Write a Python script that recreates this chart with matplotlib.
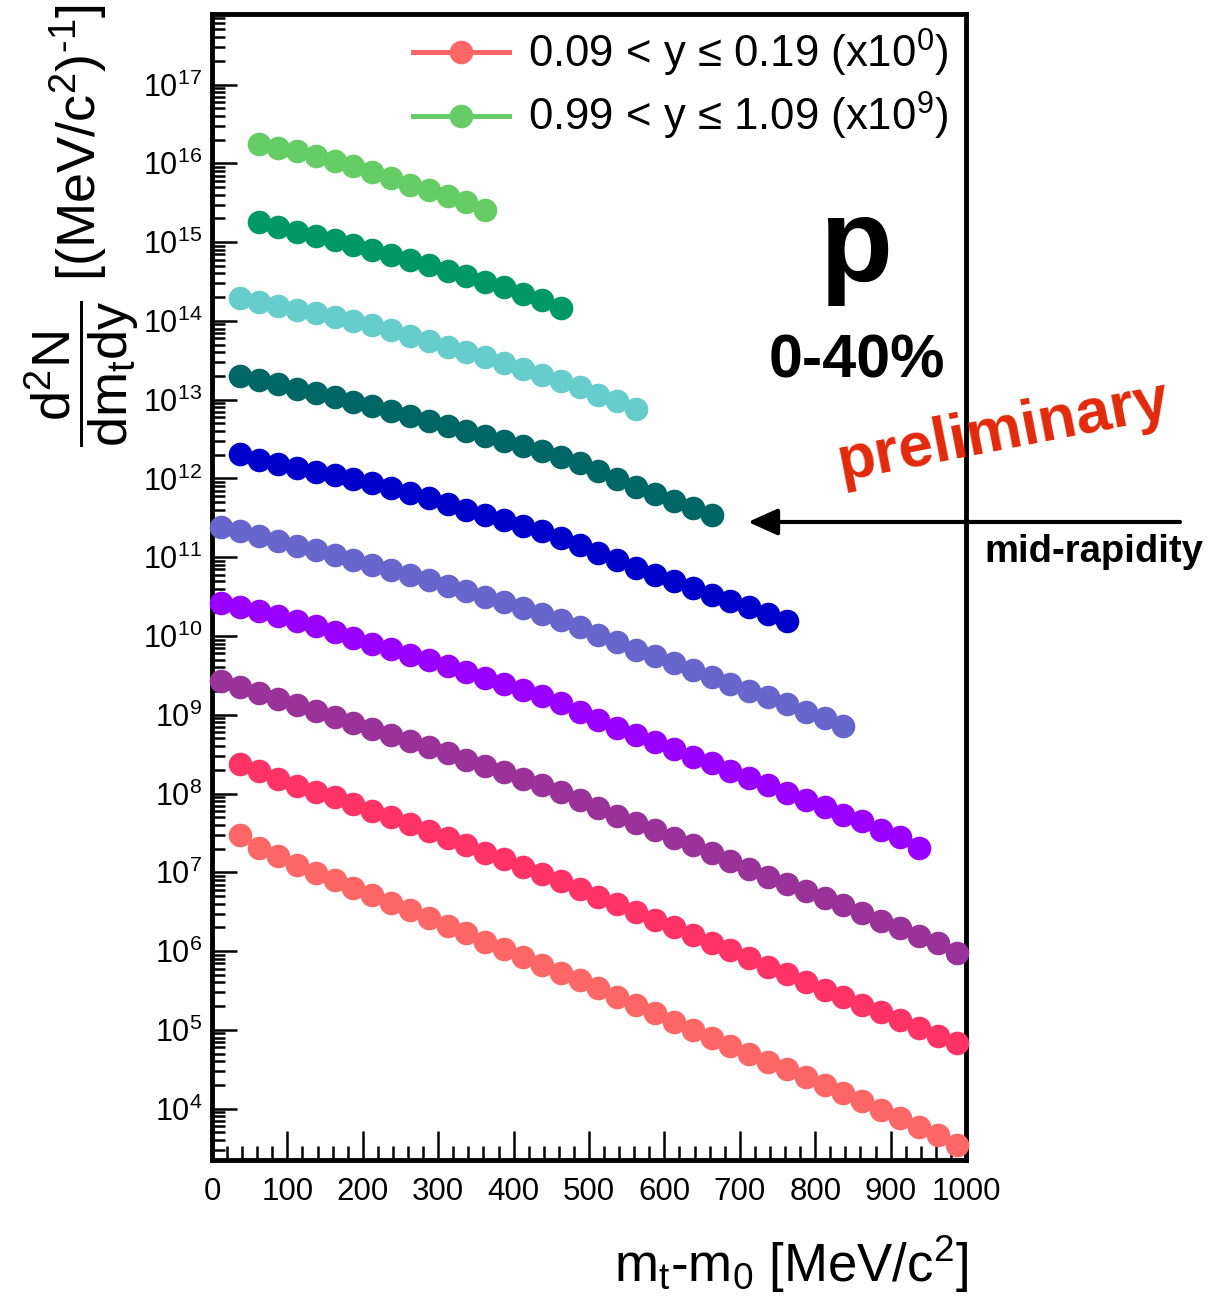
import matplotlib
matplotlib.use("Agg")
import matplotlib.pyplot as plt
from matplotlib.lines import Line2D
from matplotlib.ticker import LogLocator, LogFormatterMathtext, NullFormatter, MultipleLocator

plt.rcParams['font.family'] = ['Liberation Sans', 'DejaVu Sans']
plt.rcParams['mathtext.fontset'] = 'custom'
plt.rcParams['mathtext.rm'] = 'Liberation Sans'
plt.rcParams['mathtext.it'] = 'Liberation Sans'
plt.rcParams['mathtext.bf'] = 'Liberation Sans:bold'
plt.rcParams['mathtext.sf'] = 'Liberation Sans'
plt.rcParams['mathtext.default'] = 'regular'

W, H = 1228, 1297

# m_t - m_0 bin centres [MeV/c^2], 25 MeV wide bins
mt_centers = [12.5, 37.5, 62.5, 87.5, 112.5, 137.5, 162.5, 187.5, 212.5, 237.5,
              262.5, 287.5, 312.5, 337.5, 362.5, 387.5, 412.5, 437.5, 462.5, 487.5,
              512.5, 537.5, 562.5, 587.5, 612.5, 637.5, 662.5, 687.5, 712.5, 737.5,
              762.5, 787.5, 812.5, 837.5, 862.5, 887.5, 912.5, 937.5, 962.5, 987.5]

# rapidity bins, scale factor exponent, first filled mt bin
y_lo = [0.09, 0.19, 0.29, 0.39, 0.49, 0.59, 0.69, 0.79, 0.89, 0.99]
y_hi = [0.19, 0.29, 0.39, 0.49, 0.59, 0.69, 0.79, 0.89, 0.99, 1.09]
scale_exp = [0, 1, 2, 3, 4, 5, 6, 7, 8, 9]
first_bin = [1, 1, 0, 0, 0, 1, 1, 1, 2, 2]
colors = ['#FF6666', '#FF3366', '#993399', '#9900FF', '#6666CC',
          '#0000CC', '#006666', '#66CCCC', '#009966', '#66CC66']

# d2N/dmt dy, unscaled
yield_0 = [2.99e7, 2.03e7, 1.59e7, 1.245e7, 9.94e6, 8.03e6, 6.41e6, 5.13e6, 4.13e6, 3.31e6,
           2.64e6, 2.11e6, 1.69e6, 1.32e6, 1.06e6, 8.38e5, 6.69e5, 5.34e5, 4.25e5, 3.39e5,
           2.65e5, 2.04e5, 1.63e5, 1.27e5, 1.0e5, 7.85e4, 6.27e4, 4.96e4, 3.96e4, 3.17e4,
           2.51e4, 1.98e4, 1.57e4, 1.24e4, 9.64e3, 7.57e3, 5.92e3, 4.68e3, 3.47e3]
yield_1 = [2.39e7, 1.905e7, 1.54e7, 1.26e7, 1.06e7, 8.91e6, 7.41e6, 6.09e6, 5.02e6, 4.13e6,
           3.37e6, 2.72e6, 2.21e6, 1.78e6, 1.455e6, 1.175e6, 9.57e5, 7.73e5, 6.22e5, 4.93e5,
           3.94e5, 3.12e5, 2.49e5, 2.01e5, 1.61e5, 1.285e5, 1.02e5, 8.13e4, 6.36e4, 5.14e4,
           4.10e4, 3.22e4, 2.65e4, 2.08e4, 1.68e4, 1.34e4, 1.07e4, 8.39e3, 6.78e3]
yield_2 = [2.70e7, 2.27e7, 1.88e7, 1.57e7, 1.32e7, 1.125e7, 9.44e6, 7.92e6, 6.64e6, 5.49e6,
           4.60e6, 3.86e6, 3.24e6, 2.68e6, 2.25e6, 1.86e6, 1.54e6, 1.27e6, 1.05e6, 8.33e5,
           6.59e5, 5.21e5, 4.19e5, 3.41e5, 2.74e5, 2.20e5, 1.77e5, 1.38e5, 1.107e5, 8.77e4,
           7.14e4, 5.82e4, 4.74e4, 3.86e4, 3.06e4, 2.39e4, 1.97e4, 1.56e4, 1.285e4, 9.51e3]
yield_3 = [2.61e7, 2.32e7, 2.06e7, 1.81e7, 1.56e7, 1.32e7, 1.109e7, 9.42e6, 7.98e6, 6.82e6,
           5.78e6, 4.90e6, 4.10e6, 3.48e6, 2.92e6, 2.48e6, 2.08e6, 1.74e6, 1.42e6, 1.09e6,
           8.65e5, 6.78e5, 5.57e5, 4.45e5, 3.66e5, 2.95e5, 2.44e5, 1.96e5, 1.57e5, 1.29e5,
           1.03e5, 8.33e4, 6.73e4, 5.37e4, 4.42e4, 3.47e4, 2.80e4, 2.03e4]
yield_4 = [2.40e7, 2.14e7, 1.85e7, 1.62e7, 1.40e7, 1.23e7, 1.076e7, 9.30e6, 8.03e6, 6.93e6,
           6.00e6, 5.11e6, 4.35e6, 3.70e6, 3.15e6, 2.69e6, 2.26e6, 1.92e6, 1.61e6, 1.31e6,
           1.037e6, 8.28e5, 6.68e5, 5.50e5, 4.53e5, 3.72e5, 3.01e5, 2.48e5, 2.03e5, 1.68e5,
           1.38e5, 1.10e5, 9.08e4, 7.24e4]
yield_5 = [2.03e7, 1.73e7, 1.52e7, 1.35e7, 1.22e7, 1.10e7, 9.77e6, 8.71e6, 7.64e6, 6.59e6,
           5.65e6, 4.78e6, 4.01e6, 3.47e6, 2.99e6, 2.51e6, 2.13e6, 1.75e6, 1.42e6, 1.14e6,
           9.16e5, 7.29e5, 5.91e5, 4.93e5, 4.06e5, 3.34e5, 2.81e5, 2.30e5, 1.90e5, 1.54e5]
yield_6 = [1.98e7, 1.79e7, 1.57e7, 1.38e7, 1.22e7, 1.07e7, 9.44e6, 8.22e6, 7.14e6, 6.17e6,
           5.33e6, 4.61e6, 3.98e6, 3.44e6, 2.95e6, 2.55e6, 2.20e6, 1.89e6, 1.56e6, 1.25e6,
           9.93e5, 7.85e5, 6.31e5, 5.14e5, 4.22e5, 3.47e5]
yield_7 = [1.95e7, 1.73e7, 1.54e7, 1.39e7, 1.25e7, 1.13e7, 1.007e7, 8.87e6, 7.64e6, 6.50e6,
           5.53e6, 4.71e6, 4.07e6, 3.47e6, 2.92e6, 2.45e6, 2.05e6, 1.72e6, 1.44e6, 1.156e6,
           9.51e5, 7.57e5]
yield_8 = [1.79e7, 1.55e7, 1.36e7, 1.21e7, 1.06e7, 9.29e6, 8.03e6, 6.93e6, 6.00e6, 5.11e6,
           4.35e6, 3.68e6, 3.10e6, 2.69e6, 2.22e6, 1.82e6, 1.46e6]
yield_9 = [1.78e7, 1.57e7, 1.42e7, 1.23e7, 1.06e7, 9.17e6, 7.69e6, 6.53e6, 5.37e6, 4.54e6,
           3.81e6, 3.20e6, 2.58e6]

yields = [yield_0, yield_1, yield_2, yield_3, yield_4,
          yield_5, yield_6, yield_7, yield_8, yield_9]

fig = plt.figure(figsize=(W / 100, H / 100), dpi=100)
ax = fig.add_axes([212 / W, 1 - 1160 / H, 754 / W, 1146 / H])

for i, vals in enumerate(yields):
    x = mt_centers[first_bin[i]:first_bin[i] + len(vals)]
    y = [v * 10 ** scale_exp[i] for v in vals]
    ax.plot(x, y, ls='none', marker='o', ms=17, mew=0, color=colors[i],
            clip_on=False, zorder=3)

ax.set_yscale('log')
ax.set_xlim(0, 1000)
ax.set_ylim(2.23e3, 7.86e17)

ax.xaxis.set_major_locator(MultipleLocator(100))
ax.xaxis.set_minor_locator(MultipleLocator(20))
ax.yaxis.set_major_locator(LogLocator(base=10, numticks=30))
ax.yaxis.set_minor_locator(LogLocator(base=10, subs=range(2, 10), numticks=30))
ax.yaxis.set_major_formatter(LogFormatterMathtext())
ax.yaxis.set_minor_formatter(NullFormatter())

ax.tick_params(axis='x', which='major', direction='in', length=21, width=1.8,
               labelsize=22.5, pad=12, top=False)
ax.tick_params(axis='x', which='minor', direction='in', length=10, width=1.8, top=False)
ax.tick_params(axis='y', which='major', direction='in', length=18, width=1.8,
               labelsize=22, pad=7, right=False)
ax.tick_params(axis='y', which='minor', direction='in', length=9.5, width=1.8, right=False)
for s in ax.spines.values():
    s.set_linewidth(3.5)

# axis titles
fig.text(82 / W, 1 - 226 / H,
         r'$\dfrac{d^2N}{dm_tdy}$ [(MeV/c$^2$)$^{\text{-1}}$]',
         rotation=90, fontsize=39, ha='center', va='center')
fig.text(968 / W, 1 - 1282 / H, r'm$_t$-m$_0$ [MeV/c$^2$]',
         fontsize=38, ha='right', va='baseline')

# legend: only first and last rapidity bin
handles = [Line2D([], [], color=colors[0], lw=3.6, marker='o', ms=17, mew=0),
           Line2D([], [], color=colors[9], lw=3.6, marker='o', ms=17, mew=0)]
labels = ['%.2f < y \u2264 %.2f (x10$^{%d}$)' % (y_lo[0], y_hi[0], scale_exp[0]),
          '%.2f < y \u2264 %.2f (x10$^{%d}$)' % (y_lo[9], y_hi[9], scale_exp[9])]
fig.legend(handles, labels, loc='upper left', bbox_to_anchor=(413 / W, 1 - 27 / H),
           frameon=False, fontsize=31.5, handlelength=2.2, handletextpad=0.42,
           labelspacing=0.25, borderpad=0, borderaxespad=0)

# annotations
fig.text(856 / W, 1 - 281 / H, 'p', fontsize=86, fontweight='bold',
         ha='center', va='baseline')
fig.text(857 / W, 1 - 378 / H, '0-40%', fontsize=44, fontweight='bold',
         ha='center', va='baseline')
fig.text(1004 / W, 1 - 432 / H, 'preliminary', fontsize=45, fontweight='bold',
         color='#E2290B', ha='center', va='center', rotation=11,
         rotation_mode='anchor')
ax.annotate('', xy=(748, H - 522), xytext=(1180, H - 522),
            xycoords='figure pixels', textcoords='figure pixels',
            arrowprops=dict(arrowstyle='-|>,head_length=0.6,head_width=0.27',
                            mutation_scale=30, lw=3, color='black',
                            shrinkA=0, shrinkB=0))
fig.text(984 / W, 1 - 562 / H, 'mid-rapidity', fontsize=27.5, fontweight='bold',
         ha='left', va='baseline')

fig.savefig('out.png', dpi=100)
